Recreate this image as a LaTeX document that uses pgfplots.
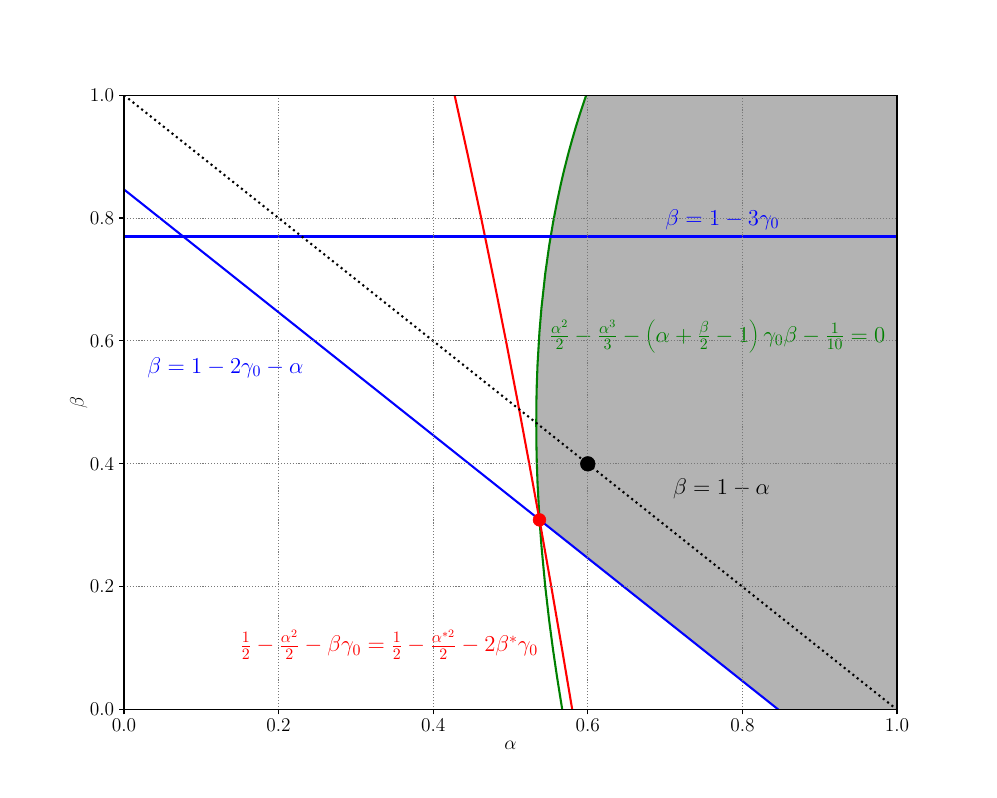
\RequirePackage{fix-cm}
\documentclass[border=0pt]{standalone}
\usepackage{pgfplots}
\pgfplotsset{compat=1.18}
\definecolor{fillgray}{RGB}{179,179,179}
\definecolor{gridgray}{RGB}{120,120,120}
\definecolor{mplgreen}{RGB}{0,128,0}

\begin{document}
\begin{tikzpicture}
\begin{axis}[
  scale only axis,
  width=558.2pt, height=443.7pt,
  xmin=0, xmax=1, ymin=0, ymax=1,
  xtick={0,0.2,0.4,0.6,0.8,1}, ytick={0,0.2,0.4,0.6,0.8,1},
  ticklabel style={font=\fontsize{14}{16}\selectfont, /pgf/number format/.cd, fixed, fixed zerofill, precision=1},
  tick pos=left, tick align=outside,
  major tick length=3.5pt,
  every tick/.style={black, line width=0.8pt},
  axis line style={line width=0.8pt},
  grid=major,
  major grid style={gridgray, line width=0.7pt, dash pattern=on 0.8pt off 1.3pt},
  axis on top,
  xlabel={$\alpha$}, ylabel={$\beta$},
  label style={font=\fontsize{14}{16}\selectfont},
  ylabel shift=-5pt,
]
% feasible region
\addplot[fill=fillgray, draw=none] coordinates {
  (0.5375,0.3088) (0.535,0.3680) (0.534,0.4039) (0.5335,0.4339) (0.53335,0.4667)
  (0.5335,0.4991) (0.534,0.5281) (0.535,0.5620) (0.5375,0.6152) (0.54,0.6529)
  (0.545,0.7099) (0.55,0.7546) (0.555,0.7922) (0.56,0.8250) (0.565,0.8545)
  (0.567,0.8655) (0.57,0.8813) (0.575,0.9059) (0.58,0.9286) (0.585,0.9502)
  (0.59,0.9702) (0.595,0.9892) (0.598,1.0) (1,1) (1,0) (0.8466,0)
} -- cycle;
% green boundary
\addplot[mplgreen, line width=1.5pt] coordinates {
  (0.567,0) (0.565,0.0155) (0.56,0.0550) (0.555,0.0979) (0.55,0.1454)
  (0.545,0.2001) (0.54,0.2671) (0.5375,0.3098) (0.535,0.3680) (0.534,0.4039)
  (0.5335,0.4339) (0.53335,0.4667)
  (0.5335,0.4991) (0.534,0.5281) (0.535,0.5620) (0.5375,0.6152) (0.54,0.6529)
  (0.545,0.7099) (0.55,0.7546) (0.555,0.7922) (0.56,0.8250) (0.565,0.8545)
  (0.567,0.8655) (0.57,0.8813) (0.575,0.9059) (0.58,0.9286) (0.585,0.9502)
  (0.59,0.9702) (0.595,0.9892) (0.598,1.0)
};
% red curve
\addplot[red, line width=1.5pt] coordinates {
  (0.5799,0) (0.5665,0.1) (0.5528,0.2) (0.5388,0.3) (0.5243,0.4) (0.5095,0.5)
  (0.4942,0.6) (0.4784,0.7) (0.4621,0.8) (0.4452,0.9) (0.4277,1.0)
};
% blue lines
\addplot[blue, line width=1.5pt] coordinates {(0,0.8466) (0.8466,0)};
\addplot[blue, line width=1.5pt] coordinates {(0,0.7699) (1,0.7699)};
% beta = 1 - alpha
\addplot[black, line width=1.5pt, dash pattern=on 1.5pt off 2.5pt] coordinates {(0,1) (1,0)};
% points
\addplot[only marks, mark=*, mark size=5.3pt, black] coordinates {(0.6,0.4)};
\addplot[only marks, mark=*, mark size=4.6pt, red] coordinates {(0.5375,0.3088)};
% annotations
\node[anchor=base west, inner sep=0pt, blue, font=\fontsize{16.4}{19}\selectfont] at (axis cs:0.7,0.788) {$\beta=1-3\gamma_0$};
\node[anchor=base west, inner sep=0pt, blue, font=\fontsize{16.4}{19}\selectfont] at (axis cs:0.03,0.547) {$\beta=1-2\gamma_0-\alpha$};
\node[anchor=base west, inner sep=0pt, black, font=\fontsize{16.4}{19}\selectfont] at (axis cs:0.71,0.35) {$\beta=1-\alpha$};
\node[anchor=base west, inner sep=0pt, mplgreen, font=\fontsize{16.4}{19}\selectfont] at (axis cs:0.55,0.598) {$\frac{\alpha^2}{2}-\frac{\alpha^3}{3}-\left(\alpha+\frac{\beta}{2}-1\right)\gamma_0\beta-\frac{1}{10}=0$};
\node[anchor=base west, inner sep=0pt, red, font=\fontsize{16.4}{19}\selectfont] at (axis cs:0.15,0.094) {$\frac{1}{2}-\frac{\alpha^2}{2}-\beta\gamma_0=\frac{1}{2}-\frac{\alpha^{*2}}{2}-2\beta^*\gamma_0$};
\coordinate (sw) at (rel axis cs:0,0);
\coordinate (ne) at (rel axis cs:1,1);
\end{axis}
\path ([shift={(-89.5pt,-63.6pt)}]sw) rectangle ([shift={(72.2pt,68.7pt)}]ne);
\end{tikzpicture}
\end{document}
